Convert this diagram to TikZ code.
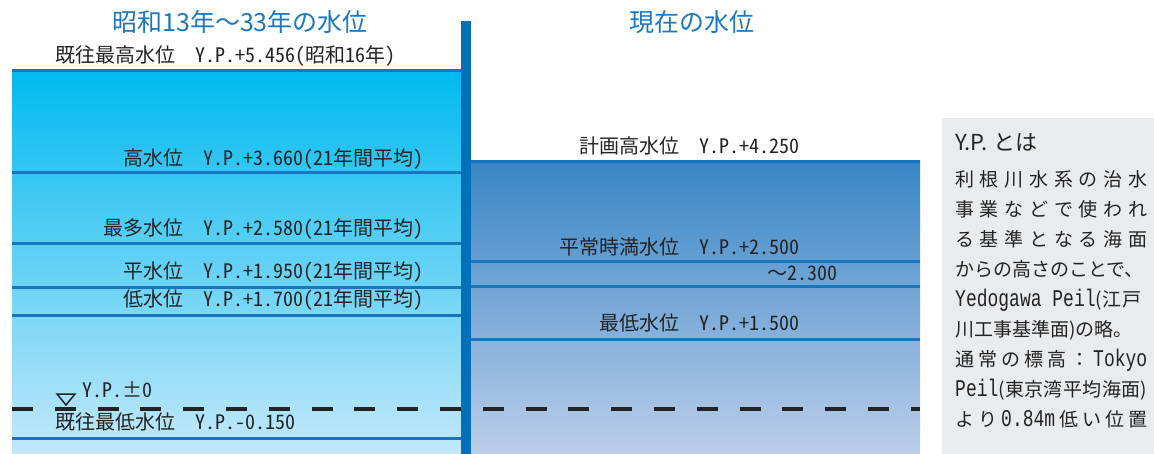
\documentclass[tikz,border=0pt]{standalone}
\usepackage{graphicx}
\usepackage{fontspec}
\setmainfont{Noto Sans CJK JP}
\newfontfamily\lblfont[RawFeature=+hwid]{Noto Sans CJK JP}
\newfontfamily\latmono{Liberation Mono}
\definecolor{ttl}{RGB}{26,120,194}
\definecolor{lvl}{RGB}{24,118,190}
\definecolor{barc}{RGB}{0,112,186}
\definecolor{txt}{RGB}{35,35,35}
\definecolor{ltop}{RGB}{0,186,240}
\definecolor{lbot}{RGB}{195,232,250}
\definecolor{rtop}{RGB}{56,134,198}
\definecolor{rbot}{RGB}{188,206,234}
\definecolor{notec}{RGB}{234,235,237}
\newcommand\hw[1]{{\lblfont #1}}
\newcommand\mono[1]{\scalebox{0.75}[1]{\fontsize{24}{24}\selectfont\latmono #1}}
\makeatletter
\def\spendmark{\spendmark}
\def\sp@endarg{\spendmark}
\def\sp@loop#1{\def\sp@arg{#1}\ifx\sp@arg\sp@endarg\else\hfill#1\expandafter\sp@loop\fi}
\def\sp@first#1{#1\sp@loop}
\newcommand\spreadline[1]{\hbox to 192pt{\sp@first#1\spendmark}}
\makeatother
\begin{document}
\begin{tikzpicture}[x=1pt,y=-1pt,
  lab/.style={font=\fontsize{20}{20}\selectfont, text=txt, inner sep=0pt, text height=0.88em, text depth=0.12em},
  ttlstyle/.style={font=\fontsize{25}{25}\selectfont, text=ttl, inner sep=0pt},
  lvline/.style={draw=lvl, line width=3pt},
  notel/.style={font=\fontsize{19}{19}\selectfont, text=txt, inner sep=0pt, anchor=west, text height=0.88em, text depth=0.12em},
]
\useasboundingbox (0,0) rectangle (1154,454);
\fill[white] (0,0) rectangle (1154,454);
% water bodies
\shade[top color=ltop, bottom color=lbot] (12,71) rectangle (461,454);
\shade[top color=rtop, bottom color=rbot] (471,162) rectangle (920,454);
% level lines (left)
\draw[lvline] (12,71) -- (461,71);
\draw[lvline] (12,173) -- (461,173);
\draw[lvline] (12,244) -- (461,244);
\draw[lvline] (12,288) -- (461,288);
\draw[lvline] (12,316) -- (461,316);
\draw[lvline] (12,438) -- (461,438);
% level lines (right)
\draw[lvline] (471,162) -- (920,162);
\draw[lvline] (471,262) -- (920,262);
\draw[lvline] (471,287) -- (920,287);
\draw[lvline] (471,340) -- (920,340);
% datum dashed line
\draw[txt, line width=3.5pt, dash pattern=on 21pt off 21.8pt] (12,409) -- (920,409);
% wall
\fill[barc] (461,21) rectangle (471,454);
% datum mark
\draw[txt, line width=1.5pt, line join=miter] (57,394) -- (75,394) -- (66,405) -- cycle;
% note box
\fill[notec] (942,118) rectangle (1154,454);
% titles
\node[ttlstyle] (t1) at (240,22) {昭和13年～33年の水位};
\node[ttlstyle] (t2) at (692,22) {現在の水位};
% left labels
\node[lab, anchor=west] (a1) at (55,59) {既往最高水位　\hw{Y.P.+5.456(}昭和\hw{16}年\hw{)}};
\node[lab, anchor=east] (a2) at (424,162) {高水位　\hw{Y.P.+3.660(21}年間平均\hw{)}};
\node[lab, anchor=east] (a3) at (424,232) {最多水位　\hw{Y.P.+2.580(21}年間平均\hw{)}};
\node[lab, anchor=east] (a4) at (424,275) {平水位　\hw{Y.P.+1.950(21}年間平均\hw{)}};
\node[lab, anchor=east] (a5) at (424,303) {低水位　\hw{Y.P.+1.700(21}年間平均\hw{)}};
\node[lab, anchor=west] (a6) at (82,394) {\hw{Y.P.}±\hw{0}};
\node[lab, anchor=west] (a7) at (55,426) {既往最低水位　\hw{Y.P.-0.150}};
% right labels
\node[lab, anchor=east] (b1) at (800,150) {計画高水位　\hw{Y.P.+4.250}};
\node[lab, anchor=east] (b2) at (800,251) {平常時満水位　\hw{Y.P.+2.500}};
\node[lab, anchor=east] (b3) at (838,277) {～\hw{2.300}};
\node[lab, anchor=east] (b4) at (800,327) {最低水位　\hw{Y.P.+1.500}};
% note text
\node[font=\fontsize{22}{22}\selectfont, text=txt, anchor=west, inner sep=0pt] (n0) at (955,142) {Y.P. とは};
\node[notel] (n1) at (955,183) {\spreadline{利根川水系の治水}};
\node[notel] (n2) at (955,213) {\spreadline{事業などで使われ}};
\node[notel] (n3) at (955,243) {\spreadline{る基準となる海面}};
\node[notel] (n4) at (955,273) {からの高さのことで、};
\node[notel] (n5) at (955,303) {\mono{Yedogawa Peil}(江\hspace{1pt}戸};
\node[notel] (n6) at (955,333) {川工事基準面)の略。};
\node[notel] (n7) at (955,363) {\spreadline{通常の標高：{\mono{Tokyo}}}};
\node[notel] (n8) at (955,393) {\spreadline{{\mono{Peil}(}東京湾平均海面)}};
\node[notel] (n9) at (955,423) {\spreadline{より{\mono{0.84m}}低い位置}};
\end{tikzpicture}
\end{document}
